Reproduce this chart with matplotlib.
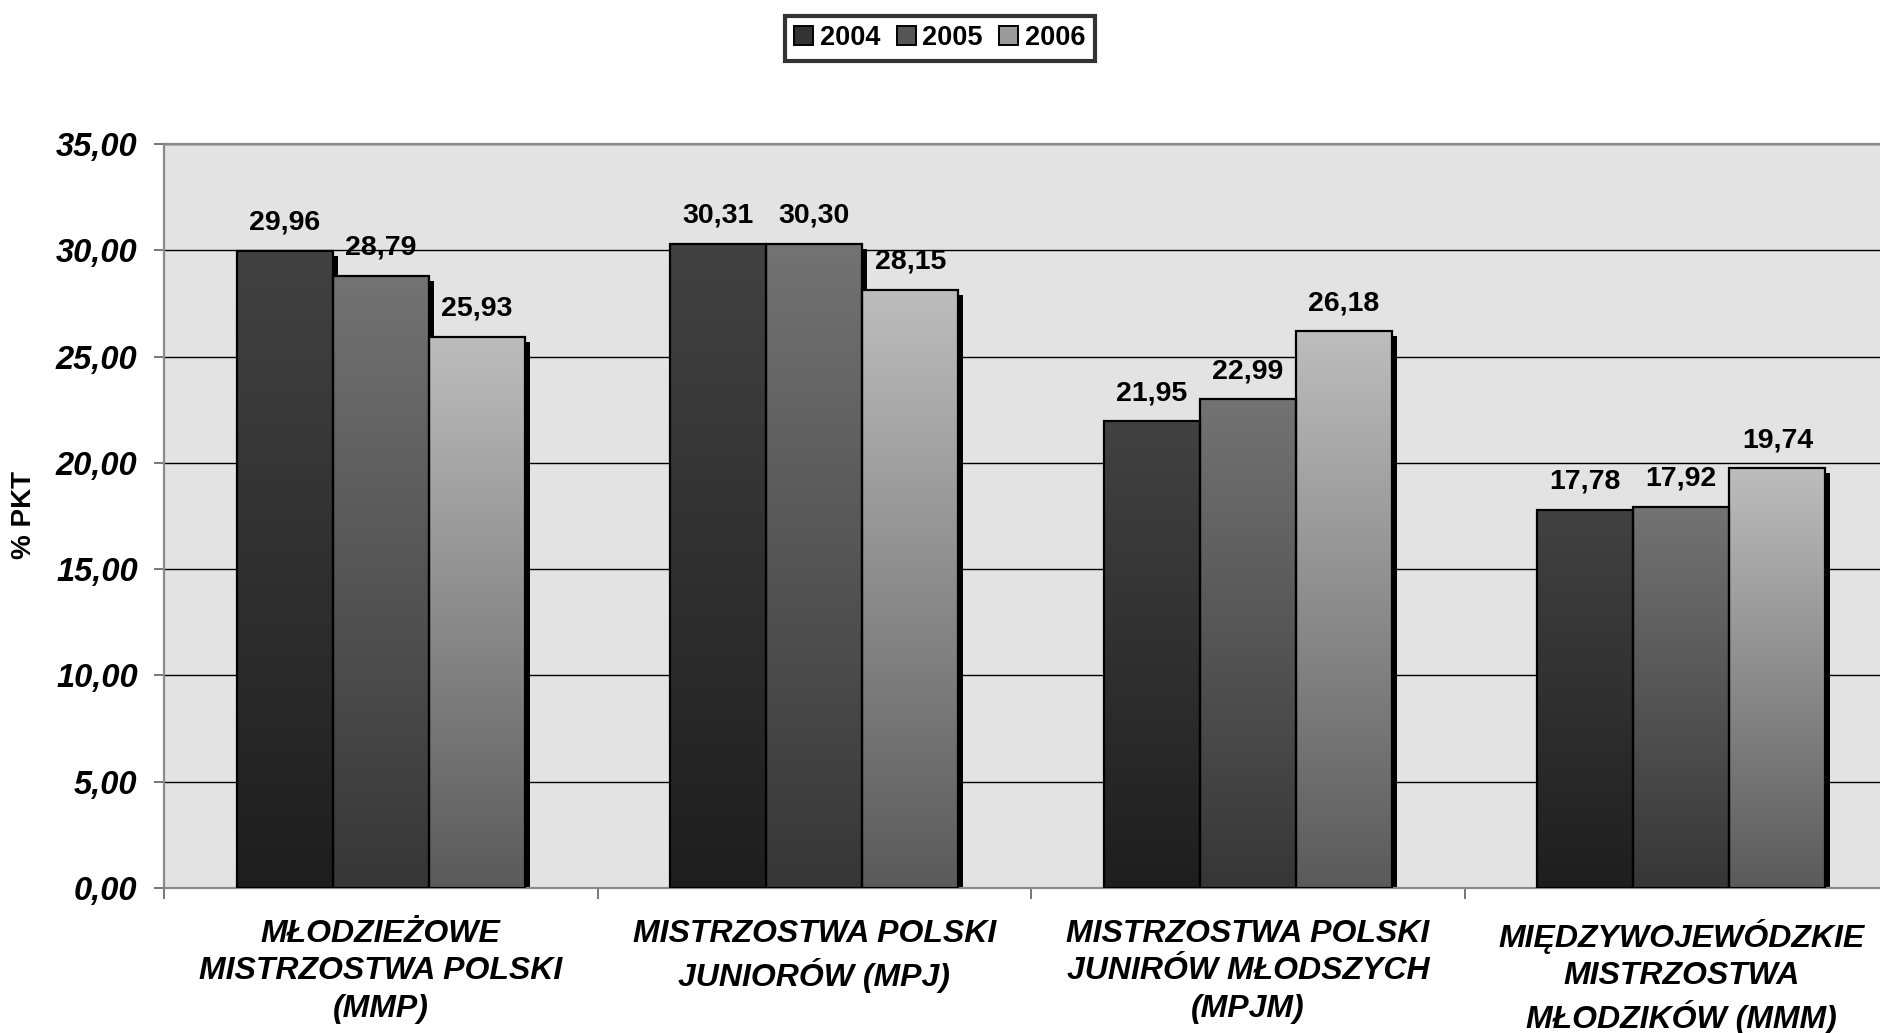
import matplotlib
matplotlib.use("Agg")
import matplotlib.pyplot as plt
import matplotlib.patheffects as pe
from matplotlib.patches import Patch
from matplotlib.ticker import FixedLocator
import numpy as np

plt.rcParams['font.family'] = ['Liberation Sans', 'DejaVu Sans']

categories = [
    "MŁODZIEŻOWE\nMISTRZOSTWA POLSKI\n(MMP)",
    "MISTRZOSTWA POLSKI\nJUNIORÓW (MPJ)",
    "MISTRZOSTWA POLSKI\nJUNIRÓW MŁODSZYCH\n(MPJM)",
    "MIĘDZYWOJEWÓDZKIE\nMISTRZOSTWA\nMŁODZIKÓW (MMM)",
]
years = ["2004", "2005", "2006"]
pkt_2004 = [29.96, 30.31, 21.95, 17.78]
pkt_2005 = [28.79, 30.30, 22.99, 17.92]
pkt_2006 = [25.93, 28.15, 26.18, 19.74]
series = [pkt_2004, pkt_2005, pkt_2006]

# gradient colours per series: (top, bottom)
grad = [("#424242", "#1e1e1e"), ("#737373", "#363636"), ("#bdbdbd", "#5a5a5a")]
legend_fill = ["#333333", "#555555", "#9a9a9a"]

fig = plt.figure(figsize=(18.81, 10.33), dpi=100)
ax = fig.add_axes([0.0872, 0.1404, 0.9219, 0.7202])
ax.set_facecolor("#e3e3e3")

x = np.arange(len(categories))
width = 0.2215
shadow = [pe.SimplePatchShadow(offset=(3.6, -3.6), shadow_rgbFace="black", alpha=1.0)]

t = np.linspace(0, 1, 256)[:, None]
for i, vals in enumerate(series):
    pos = x + (i - 1) * width
    top = np.array(matplotlib.colors.to_rgb(grad[i][0]))
    bot = np.array(matplotlib.colors.to_rgb(grad[i][1]))
    img = (1 - t)[:, :, None] * top + t[:, :, None] * bot
    # shadow bars underneath
    ax.bar(pos, vals, width, color="none", edgecolor="none", zorder=2,
           path_effects=shadow)
    for p, v in zip(pos, vals):
        ax.imshow(img, extent=(p - width / 2, p + width / 2, 0, v),
                  origin="upper", aspect="auto", zorder=3, interpolation="bilinear")
    bars = ax.bar(pos, vals, width, color="none", edgecolor="black",
                  linewidth=1.6, zorder=4)
    for p, v in zip(pos, vals):
        ax.annotate(f"{v:.2f}".replace(".", ","), (p, v), xytext=(0, 11),
                    textcoords="offset points", ha="center", va="bottom",
                    fontsize=20.5, fontweight="bold", zorder=5)

ax.set_xlim(-0.5, 3.5)
ax.set_ylim(0, 35)
ax.set_yticks(np.arange(0, 35.1, 5))
ax.set_yticklabels([f"{v:.2f}".replace(".", ",") for v in np.arange(0, 35.1, 5)],
                   fontsize=23.5, fontweight="bold", fontstyle="italic")
ax.yaxis.grid(True, color="black", linewidth=1.0, zorder=1)
ax.set_axisbelow(True)

ax.set_xticks(x)
ax.set_xticklabels(categories, fontsize=23, fontweight="bold",
                   fontstyle="italic", linespacing=1.33)
ax.tick_params(axis="x", which="major", length=0, pad=22)
ax.xaxis.set_minor_locator(FixedLocator(np.arange(-0.5, 4, 1)))
ax.tick_params(axis="x", which="minor", length=8, width=1.2, color="#606060")
ax.tick_params(axis="y", length=7, width=1.2, color="#606060", pad=12)

for s in ax.spines.values():
    s.set_color("#8a8a8a")
    s.set_linewidth(1.6)

fig.text(0.0125, 0.5015, "% PKT", rotation=90, ha="center", va="center",
         fontsize=20, fontweight="bold")

handles = [Patch(facecolor=c, edgecolor="black", linewidth=1.4) for c in legend_fill]
leg = fig.legend(handles, years, loc="center", bbox_to_anchor=(0.4997, 0.963),
                 ncol=3, frameon=True, fancybox=False,
                 prop={"weight": "bold", "size": 19.5}, handlelength=0.7,
                 handleheight=0.7, handletextpad=0.25, columnspacing=0.6,
                 borderpad=0.35, borderaxespad=0)
leg.get_frame().set_edgecolor("black")
leg.get_frame().set_linewidth(3)

fig.savefig("out.png", dpi=100)
